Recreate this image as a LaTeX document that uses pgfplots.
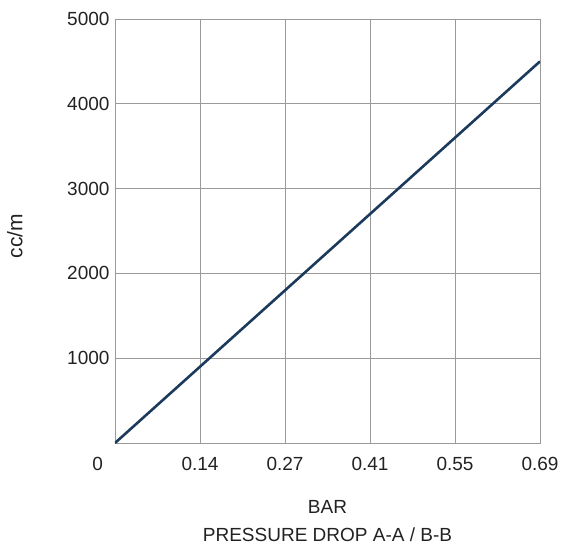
\documentclass[border=0pt]{standalone}
\usepackage{pgfplots}
\pgfplotsset{compat=1.18}
\usepackage{fontspec}
\setmainfont{Liberation Sans}
\definecolor{gridc}{HTML}{9A9A9A}
\definecolor{linec}{HTML}{1B3A5C}
\definecolor{textc}{HTML}{222222}
\begin{document}
\begin{tikzpicture}
\useasboundingbox (-115pt,-104pt) rectangle (454pt,443pt);
\begin{axis}[
  at={(0pt,0pt)}, anchor=south west,
  scale only axis, width=425pt, height=424pt,
  xmin=0, xmax=0.69, ymin=0, ymax=5000,
  xtick={0,0.138,0.276,0.414,0.552,0.69},
  xticklabels={\makebox[0pt][r]{0\hspace{12pt}},0.14,0.27,0.41,0.55,0.69},
  ytick={1000,2000,3000,4000,5000},
  yticklabels={1000,2000,3000,4000,5000},
  grid=major, major grid style={gridc, line width=0.9pt},
  axis line style={gridc, line width=0.9pt},
  tick style={draw=none},
  tick label style={font=\fontsize{19}{22}\selectfont, text=textc},
  xticklabel style={yshift=-11pt},
  yticklabel style={xshift=-2pt},
  xlabel={BAR\\PRESSURE DROP A-A / B-B},
  xlabel style={font=\fontsize{19}{28}\selectfont, text=textc, align=center, at={(axis description cs:0.5,0)}, anchor=north, yshift=-54pt},
  ylabel={cc/m},
  ylabel style={font=\fontsize{21}{24}\selectfont, text=textc, at={(axis description cs:0,0.5)}, anchor=south, xshift=-5pt, yshift=89pt},
]
\addplot[linec, line width=2.6pt] coordinates {(0,0) (0.69,4500)};
\end{axis}
\end{tikzpicture}
\end{document}
